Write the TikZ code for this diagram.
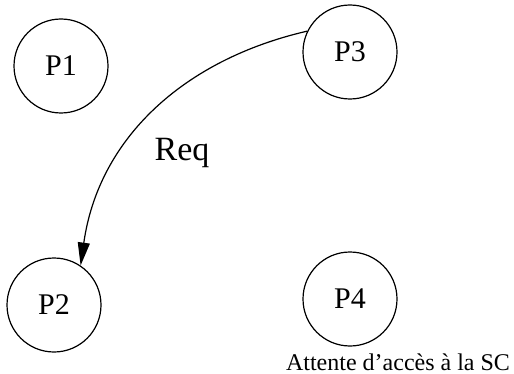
\documentclass[tikz,border=0pt]{standalone}
\usepackage{fontspec}
\setmainfont{Liberation Serif}
\usetikzlibrary{arrows.meta}

\begin{document}
\begin{tikzpicture}[x=0.5pt, y=-0.5pt,
    proc/.style={draw, circle, line width=0.6pt, minimum size=47pt, inner sep=0pt,
      font=\fontsize{15}{17}\selectfont}]
      \useasboundingbox (0, 0) rectangle (514, 374);
      \node[proc] (P1) at (61, 66) {P1};
      \node[proc] (P3) at (350, 52) {P3};
      \node[proc] (P2) at (54, 305) {P2};
      \node[proc] (P4) at (350, 299) {P4};
      \node[font=\fontsize{12}{14}\selectfont] (attente) at (398, 362) {Attente d'accès à la SC};
      \node[font=\fontsize{17}{19}\selectfont] (req) at (182, 153) {Req};
      \draw[line width=0.6pt, -{Triangle[length=11.5pt, width=6pt]}] (P3.154) to[out=193, in=82] (P2.56);
    \end{tikzpicture}
\end{document}
